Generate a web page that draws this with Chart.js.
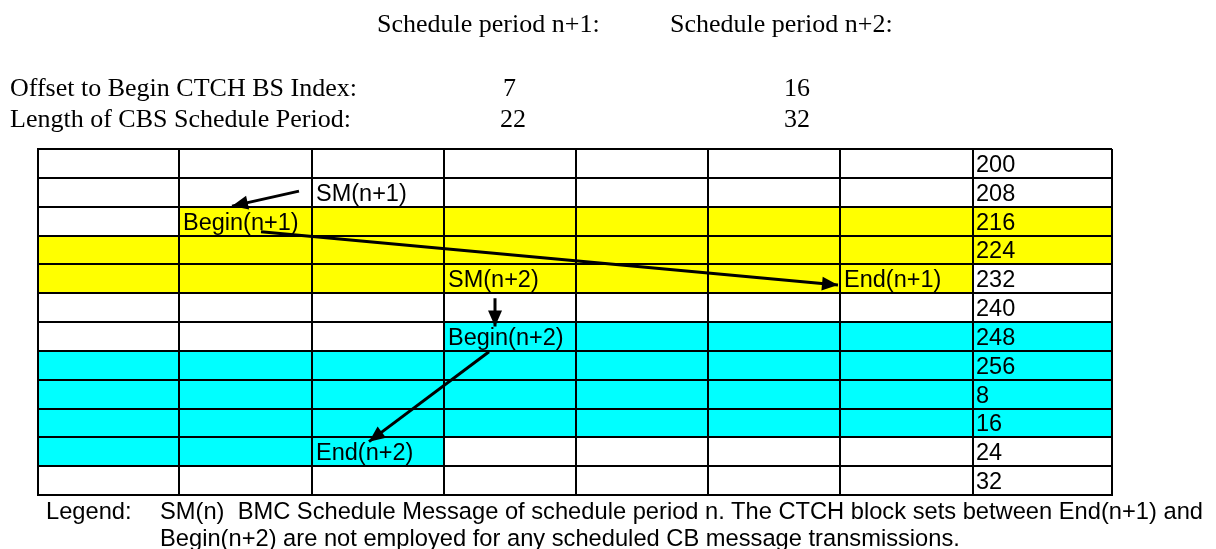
<!DOCTYPE html>
<html>
<head>
<meta charset="utf-8">
<script src="https://cdn.jsdelivr.net/npm/chart.js@4.4.1/dist/chart.umd.min.js"></script>
<style>
  body { margin: 0; background: #fff; }
  #wrap { position: relative; width: 1216px; height: 549px; overflow: hidden; }
  #c { position: absolute; left: 0; top: 0; }
  .serif { position: absolute; font-family: "Liberation Serif", "Times New Roman", serif; font-size: 26px; line-height: 26px; white-space: pre; color: #000; }
  .sans { position: absolute; font-family: "Liberation Sans", Arial, sans-serif; font-size: 23.7px; line-height: 24px; white-space: pre; color: #000; }
</style>
</head>
<body>
<div id="wrap">
  <canvas id="c" width="1216" height="549"></canvas>
</div>
<script>
// Header values
const periodNames = ["Schedule period n+1:", "Schedule period n+2:"];
const offsetLabel = "Offset to Begin CTCH BS Index:";
const offsetValues = [7, 16];
const lengthLabel = "Length of CBS Schedule Period:";
const lengthValues = [22, 32];

// Table: column edges on the x axis, 12 rows, last column holds the block set index
const colEdges = [0, 141, 274, 406, 538, 670, 802, 935, 1074];
const rowLabels = ["200", "208", "216", "224", "232", "240", "248", "256", "8", "16", "24", "32"];

// Coloured spans (row, first column, end column)
const yellowRows = [2, 3, 4];
const yellowFrom = [1, 0, 0];
const yellowTo = [8, 8, 7];
const cyanRows = [6, 7, 8, 9, 10];
const cyanFrom = [3, 0, 0, 0, 0];
const cyanTo = [8, 8, 8, 8, 3];

// Cell notes
const noteTexts = ["SM(n+1)", "Begin(n+1)", "SM(n+2)", "End(n+1)", "Begin(n+2)", "End(n+2)"];
const noteCols = [2, 1, 3, 6, 3, 2];
const noteRows = [1, 2, 4, 4, 6, 10];

// Arrows (x on the table axis, y in rows)
const arrowFrom = [[261, 1.46], [223, 2.87], [457, 5.18], [451, 7.03]];
const arrowTo = [[194, 1.98], [800, 4.72], [457, 6.16], [331, 10.15]];

const legendLines = [
  "SM(n)  BMC Schedule Message of schedule period n. The CTCH block sets between End(n+1) and",
  "Begin(n+2) are not employed for any scheduled CB message transmissions."
];

// --- html text (header + legend)
const wrap = document.getElementById("wrap");
function addText(cls, text, left, top) {
  const d = document.createElement("div");
  d.className = cls;
  d.textContent = text;
  d.style.left = left + "px";
  d.style.top = top + "px";
  wrap.appendChild(d);
}
addText("serif", periodNames[0], 377, 11);
addText("serif", periodNames[1], 670, 11);
addText("serif", offsetLabel, 10, 75);
addText("serif", String(offsetValues[0]), 503, 75);
addText("serif", String(offsetValues[1]), 784, 75);
addText("serif", lengthLabel, 10, 106);
addText("serif", String(lengthValues[0]), 500, 106);
addText("serif", String(lengthValues[1]), 784, 106);
addText("sans", "Legend:", 46, 499);
addText("sans", legendLines[0], 160, 499);
addText("sans", legendLines[1], 160, 526);

// fill coloured cells before the grid is drawn
const cellFill = {
  id: "cellFill",
  beforeDraw(chart) {
    const { ctx, scales: { x, y } } = chart;
    ctx.save();
    function fillSpans(rows, from, to, color) {
      ctx.fillStyle = color;
      rows.forEach((r, i) => {
        const x0 = x.getPixelForValue(colEdges[from[i]]);
        const x1 = x.getPixelForValue(colEdges[to[i]]);
        const y0 = y.getPixelForValue(r);
        const y1 = y.getPixelForValue(r + 1);
        ctx.fillRect(x0, y0, x1 - x0, y1 - y0);
      });
    }
    fillSpans(yellowRows, yellowFrom, yellowTo, "#ffff00");
    fillSpans(cyanRows, cyanFrom, cyanTo, "#00ffff");
    ctx.restore();
  }
};

// cell text and arrow heads
const cellText = {
  id: "cellText",
  beforeDatasetsDraw(chart) {
    const { ctx, scales: { x, y } } = chart;
    ctx.save();
    ctx.fillStyle = "#000";
    ctx.font = '23.5px "Liberation Sans", Arial, sans-serif';
    ctx.textBaseline = "alphabetic";
    ctx.textAlign = "left";
    rowLabels.forEach((lab, r) => {
      ctx.fillText(lab, x.getPixelForValue(colEdges[7]) + 3, y.getPixelForValue(r + 1) - 6);
    });
    noteTexts.forEach((t, i) => {
      ctx.fillText(t, x.getPixelForValue(colEdges[noteCols[i]]) + 4, y.getPixelForValue(noteRows[i] + 1) - 6);
    });
    ctx.restore();
  },
  afterDatasetsDraw(chart) {
    const { ctx, scales: { x, y } } = chart;
    ctx.save();
    ctx.fillStyle = "#000";
    arrowTo.forEach((p, i) => {
      const tx = x.getPixelForValue(p[0]), ty = y.getPixelForValue(p[1]);
      const sx = x.getPixelForValue(arrowFrom[i][0]), sy = y.getPixelForValue(arrowFrom[i][1]);
      const a = Math.atan2(ty - sy, tx - sx);
      const len = 16, half = 7;
      ctx.beginPath();
      ctx.moveTo(tx, ty);
      ctx.lineTo(tx - len * Math.cos(a) + half * Math.sin(a), ty - len * Math.sin(a) - half * Math.cos(a));
      ctx.lineTo(tx - len * Math.cos(a) - half * Math.sin(a), ty - len * Math.sin(a) + half * Math.cos(a));
      ctx.closePath();
      ctx.fill();
    });
    ctx.restore();
  }
};

const arrowSets = arrowFrom.map((p, i) => ({
  type: "line",
  data: [{ x: p[0], y: p[1] }, { x: arrowTo[i][0], y: arrowTo[i][1] }],
  borderColor: "#000",
  borderWidth: 3,
  pointRadius: 0,
  fill: false,
  tension: 0
}));

const gridStyle = { color: "#000", lineWidth: 2, drawTicks: false };

new Chart(document.getElementById("c"), {
  type: "scatter",
  data: { datasets: arrowSets },
  options: {
    responsive: false,
    devicePixelRatio: 1,
    animation: false,
    events: [],
    layout: { autoPadding: false, padding: { left: 38, top: 149, right: 104, bottom: 54 } },
    plugins: { legend: { display: false }, tooltip: { enabled: false } },
    scales: {
      x: {
        type: "linear", min: 0, max: colEdges[colEdges.length - 1],
        ticks: { display: false },
        afterBuildTicks: (s) => { s.ticks = colEdges.map((v) => ({ value: v })); },
        grid: gridStyle,
        border: { color: "#000", width: 2 },
        afterFit: (s) => { s.height = 0; }
      },
      y: {
        type: "linear", min: 0, max: rowLabels.length, reverse: true,
        ticks: { display: false, stepSize: 1 },
        grid: gridStyle,
        border: { color: "#000", width: 2 },
        afterFit: (s) => { s.width = 0; }
      }
    }
  },
  plugins: [cellFill, cellText]
});
</script>
</body>
</html>
